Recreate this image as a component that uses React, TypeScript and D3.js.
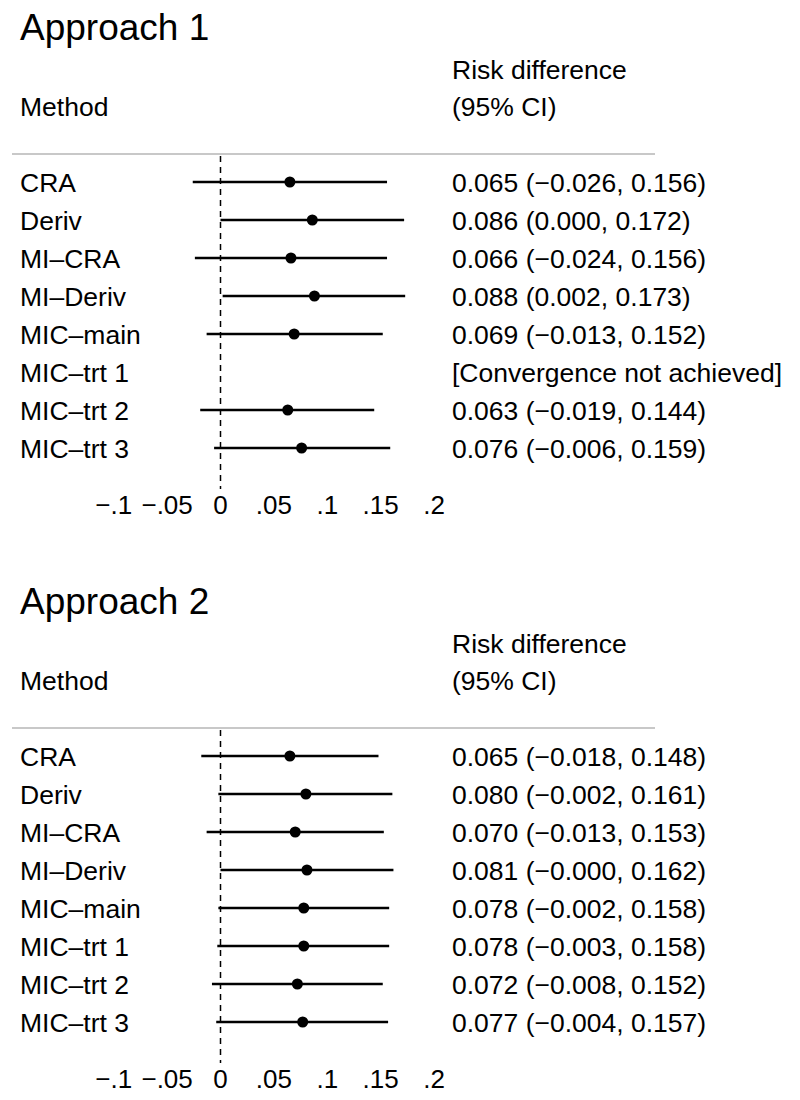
import React from "react";
import * as d3 from "d3";

const methods = ["CRA", "Deriv", "MI–CRA", "MI–Deriv", "MIC–main", "MIC–trt 1", "MIC–trt 2", "MIC–trt 3"];

const approach1Est: (number | null)[] = [0.065, 0.086, 0.066, 0.088, 0.069, null, 0.063, 0.076];
const approach1Lo: (number | null)[] = [-0.026, 0.0, -0.024, 0.002, -0.013, null, -0.019, -0.006];
const approach1Hi: (number | null)[] = [0.156, 0.172, 0.156, 0.173, 0.152, null, 0.144, 0.159];
const approach1Text = [
  "0.065 (−0.026, 0.156)",
  "0.086 (0.000, 0.172)",
  "0.066 (−0.024, 0.156)",
  "0.088 (0.002, 0.173)",
  "0.069 (−0.013, 0.152)",
  "[Convergence not achieved]",
  "0.063 (−0.019, 0.144)",
  "0.076 (−0.006, 0.159)",
];

const approach2Est: (number | null)[] = [0.065, 0.08, 0.07, 0.081, 0.078, 0.078, 0.072, 0.077];
const approach2Lo: (number | null)[] = [-0.018, -0.002, -0.013, -0.0, -0.002, -0.003, -0.008, -0.004];
const approach2Hi: (number | null)[] = [0.148, 0.161, 0.153, 0.162, 0.158, 0.158, 0.152, 0.157];
const approach2Text = [
  "0.065 (−0.018, 0.148)",
  "0.080 (−0.002, 0.161)",
  "0.070 (−0.013, 0.153)",
  "0.081 (−0.000, 0.162)",
  "0.078 (−0.002, 0.158)",
  "0.078 (−0.003, 0.158)",
  "0.072 (−0.008, 0.152)",
  "0.077 (−0.004, 0.157)",
];

const tickValues = [-0.1, -0.05, 0, 0.05, 0.1, 0.15, 0.2];
const tickLabels = ["−.1", "−.05", "0", ".05", ".1", ".15", ".2"];

const panelTitles = ["Approach 1", "Approach 2"];

const FONT = "'Liberation Sans', Arial, Helvetica, sans-serif";

const x = d3.scaleLinear().domain([0, 0.2]).range([220.5, 434]);
const y = d3.scalePoint<string>().domain(methods).range([182, 448]);

function Panel({ title, est, lo, hi, texts, offset }: {
  title: string; est: (number | null)[]; lo: (number | null)[]; hi: (number | null)[]; texts: string[]; offset: number;
}) {
  return (
    <g transform={`translate(0,${offset})`} fontFamily={FONT} fill="#000">
      <text x={20} y={40} fontSize={37}>{title}</text>
      <text x={452} y={79} fontSize={26.5}>Risk difference</text>
      <text x={20} y={116} fontSize={26.5}>Method</text>
      <text x={452} y={116} fontSize={26.5}>(95% CI)</text>
      <line x1={12} x2={655} y1={154} y2={154} stroke="#c8c8c8" strokeWidth={2} />
      <line x1={x(0)} x2={x(0)} y1={156} y2={489} stroke="#000" strokeWidth={1.5} strokeDasharray="6,5" />
      {methods.map((m, i) => {
        const yy = y(m)!;
        const e = est[i], l = lo[i], h = hi[i];
        return (
          <g key={m}>
            <text x={20} y={yy + 9.5} fontSize={26.5}>{m}</text>
            {e !== null && l !== null && h !== null && (
              <>
                <line x1={x(l)} x2={x(h)} y1={yy} y2={yy} stroke="#000" strokeWidth={2.6} />
                <circle cx={x(e)} cy={yy} r={5.5} fill="#000" />
              </>
            )}
            <text x={452} y={yy + 9.5} fontSize={26.5}>{texts[i]}</text>
          </g>
        );
      })}
      {tickValues.map((t, i) => (
        <text key={i} x={x(t)} y={514} fontSize={26} textAnchor="middle">{tickLabels[i]}</text>
      ))}
    </g>
  );
}

export default function App() {
  return (
    <div style={{ position: "absolute", left: 0, top: 0 }}>
      <svg width={800} height={1100} style={{ display: "block", background: "#fff" }}>
        <Panel title={panelTitles[0]} est={approach1Est} lo={approach1Lo} hi={approach1Hi} texts={approach1Text} offset={0} />
        <Panel title={panelTitles[1]} est={approach2Est} lo={approach2Lo} hi={approach2Hi} texts={approach2Text} offset={574} />
      </svg>
    </div>
  );
}
